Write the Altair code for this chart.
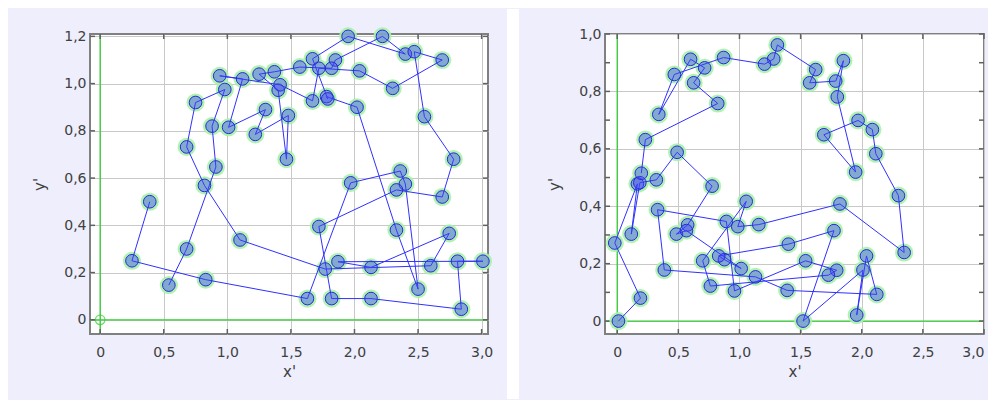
import altair as alt
import pandas as pd

# ---------------- data ----------------
left_x = [0.39, 0.25, 0.83, 1.63, 1.97, 2.36, 2.40, 2.50, 2.33, 2.02,
          1.78, 1.79, 1.67, 1.95, 2.40, 2.22, 1.85, 1.82, 1.57, 1.37,
          1.25, 1.40, 1.465, 1.48, 1.22, 1.30, 1.01, 1.12, 0.94, 1.415,
          1.67, 1.72, 2.04, 2.30, 2.69, 2.47, 2.55, 2.78, 2.69, 2.33,
          1.72, 1.82, 2.13, 2.84, 2.81, 3.01, 1.87, 2.13, 2.745, 2.60,
          1.77, 1.10, 0.82, 0.68, 0.75, 0.98, 0.88, 0.91, 0.68, 0.54]
left_y = [0.50, 0.25, 0.17, 0.09, 0.58, 0.63, 0.575, 0.13, 0.38, 0.90,
          0.945, 0.935, 1.105, 1.20, 1.125, 1.20, 1.10, 1.065, 1.07, 1.05,
          1.04, 0.972, 0.68, 0.865, 0.785, 0.89, 0.815, 1.02, 1.033, 0.995,
          0.927, 1.065, 1.054, 0.98, 1.10, 1.135, 0.86, 0.68, 0.52, 0.55,
          0.395, 0.09, 0.09, 0.045, 0.248, 0.248, 0.246, 0.222, 0.366, 0.229,
          0.215, 0.338, 0.569, 0.732, 0.92, 0.975, 0.82, 0.647, 0.30, 0.147]

right_x = [0.01, 0.19, -0.02, 0.165, 0.115, 0.185, 0.32, 0.49, 0.776, 0.576,
           0.484, 0.566, 1.014, 0.877, 0.83, 1.40, 1.773, 1.52, 2.01, 1.959,
           2.039, 2.123, 1.39, 1.131, 0.385, 0.33, 0.893, 0.959, 1.541, 1.795,
           1.727, 0.762, 0.699, 1.055, 0.986, 1.158, 1.822, 2.347, 2.30, 2.115,
           2.087, 1.97, 1.69, 1.95, 1.80, 1.85, 1.787, 1.574, 1.623, 1.31,
           1.28, 1.205, 0.87, 0.467, 0.34, 0.60, 0.715, 0.625, 0.822, 0.23,
           0.197]
right_y = [0.0, 0.08, 0.272, 0.478, 0.303, 0.482, 0.492, 0.588, 0.47, 0.335,
           0.303, 0.315, 0.183, 0.214, 0.227, 0.268, 0.315, 0.0, 0.178, 0.021,
           0.227, 0.093, 0.107, 0.154, 0.178, 0.388, 0.347, 0.105, 0.21, 0.177,
           0.16, 0.122, 0.21, 0.417, 0.329, 0.336, 0.408, 0.239, 0.437, 0.583,
           0.667, 0.699, 0.649, 0.519, 0.781, 0.907, 0.836, 0.83, 0.876, 0.962,
           0.913, 0.895, 0.918, 0.859, 0.72, 0.912, 0.882, 0.83, 0.758, 0.632,
           0.515]

x_ticks = [0, 0.5, 1.0, 1.5, 2.0, 2.5, 3.0]
left_y_ticks = [0, 0.2, 0.4, 0.6, 0.8, 1.0, 1.2]
right_y_ticks = [0, 0.1, 0.2, 0.3, 0.4, 0.5, 0.6, 0.7, 0.8, 0.9, 1.0]

LABEL_EXPR = "datum.value == 0 ? '0' : replace(format(datum.value, '.1f'), '.', ',')"
FONT = "DejaVu Sans"
TXT = "#404040"
GREEN = "#33cc33"


def panel(xs, ys, xdom, ydom, yticks, W, H, origin, strip):
    df = pd.DataFrame({"x": xs, "y": ys, "i": list(range(len(xs)))})
    sx = alt.Scale(domain=xdom, nice=False, zero=False)
    sy = alt.Scale(domain=ydom, nice=False, zero=False)
    xaxis = alt.Axis(values=x_ticks, labelExpr=LABEL_EXPR, title="x'", grid=True,
                     gridColor="#c8c8c8", domain=False, ticks=False,
                     labelPadding=11, titlePadding=5, labelFont=FONT, titleFont=FONT,
                     labelFontSize=14, titleFontSize=15, labelColor=TXT, titleColor=TXT,
                     titleFontWeight="normal")
    yaxis = alt.Axis(values=yticks, labelExpr=LABEL_EXPR, title="y'", grid=True,
                     gridColor="#c8c8c8", domain=False, ticks=False,
                     labelPadding=4, titlePadding=16, labelFont=FONT, titleFont=FONT,
                     labelFontSize=14, titleFontSize=15, labelColor=TXT, titleColor=TXT,
                     titleFontWeight="normal")
    base = alt.Chart(df)
    X = alt.X("x:Q", scale=sx, axis=xaxis)
    Y = alt.Y("y:Q", scale=sy, axis=yaxis)

    one = pd.DataFrame({"a": [0]})
    layers = []
    if strip:
        layers.append(alt.Chart(one).mark_rect(color="white").encode(
            x=alt.value(W + 19), x2=alt.value(W + 31),
            y=alt.value(-25), y2=alt.value(H + 65)))

    zx = pd.DataFrame({"v": [0]})
    layers.append(alt.Chart(zx).mark_rule(color=GREEN, strokeWidth=1.3).encode(
        x=alt.X("v:Q", scale=sx)))
    layers.append(alt.Chart(zx).mark_rule(color=GREEN, strokeWidth=1.3).encode(
        y=alt.Y("v:Q", scale=sy)))

    xt = pd.DataFrame({"v": x_ticks})
    yt = pd.DataFrame({"v": yticks})
    tick_col = "#606060"
    layers.append(alt.Chart(xt).mark_rule(color=tick_col, strokeWidth=1.5).encode(
        x=alt.X("v:Q", scale=sx), y=alt.value(0), y2=alt.value(5)))
    layers.append(alt.Chart(xt).mark_rule(color=tick_col, strokeWidth=1.5).encode(
        x=alt.X("v:Q", scale=sx), y=alt.value(H - 5), y2=alt.value(H)))
    layers.append(alt.Chart(yt).mark_rule(color=tick_col, strokeWidth=1.5).encode(
        y=alt.Y("v:Q", scale=sy), x=alt.value(0), x2=alt.value(5)))
    layers.append(alt.Chart(yt).mark_rule(color=tick_col, strokeWidth=1.5).encode(
        y=alt.Y("v:Q", scale=sy), x=alt.value(W - 5), x2=alt.value(W)))

    if origin:
        layers.append(alt.Chart(zx).mark_point(shape="circle", filled=False, color=GREEN,
                                               size=90, strokeWidth=1.3).encode(
            x=alt.X("v:Q", scale=sx), y=alt.Y("v:Q", scale=sy)))

    layers.append(base.mark_circle(color="#a6f2a6", opacity=0.9, size=330).encode(x=X, y=Y))
    layers.append(base.mark_line(color="#3030ff", strokeWidth=1).encode(
        x=X, y=Y, order="i:Q"))
    layers.append(base.mark_point(shape="circle", filled=True, fill="#4646ff", fillOpacity=0.42,
                                  stroke="#2a2ad8", strokeWidth=1, opacity=1, size=160).encode(
        x=X, y=Y))
    return alt.layer(*layers).properties(width=W, height=H)


left = panel(left_x, left_y, [-0.08, 3.05], [-0.06, 1.21], left_y_ticks, 398, 300, True, True)
right = panel(right_x, right_y, [-0.1, 3.0], [-0.045, 1.0], right_y_ticks, 379, 300, False, False)

chart = alt.hconcat(left, right, spacing=26).properties(
    background="#eeeefc",
    padding={"left": 23, "top": 0, "right": 2, "bottom": 0},
).configure_view(fill="white", stroke="#808080", strokeWidth=2)

chart.save("out.html", embed_options={"renderer": "svg", "actions": False})
